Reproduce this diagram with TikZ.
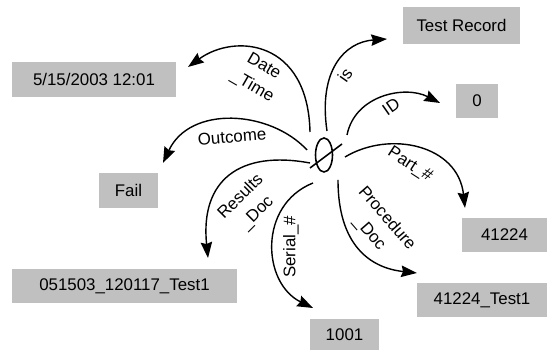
\documentclass[tikz,border=0pt]{standalone}
\usepackage{fontspec}
\setmainfont{Liberation Sans}
\usetikzlibrary{arrows.meta,shapes.geometric}
\definecolor{boxgray}{RGB}{192,192,192}
\begin{document}
\begin{tikzpicture}[x=0.02cm,y=-0.02cm,
  valbox/.style={fill=boxgray, draw=none, inner sep=0pt, font=\fontsize{9.6}{11}\selectfont},
  rel/.style={draw=black, line width=0.8pt, -{Stealth[length=9pt,width=6.5pt,inset=1pt]}},
  lbl/.style={font=\fontsize{9.6}{13}\selectfont, inner sep=0pt, align=center}]
\useasboundingbox (0,0) rectangle (547,350);

% value boxes
\node[valbox, minimum width=2.34cm, minimum height=0.74cm] (rec)  at (461.5,25.5) {Test Record};
\node[valbox, minimum width=3.28cm, minimum height=0.70cm] (date) at (94,79.5) {5/15/2003 12:01};
\node[valbox, minimum width=0.84cm, minimum height=0.68cm] (id)   at (477,101) {0};
\node[valbox, minimum width=1.18cm, minimum height=0.70cm] (fail) at (128.5,190.5) {Fail};
\node[valbox, minimum width=1.70cm, minimum height=0.68cm] (part) at (504.5,235) {41224};
\node[valbox, minimum width=4.50cm, minimum height=0.68cm] (res)  at (124.5,286) {051503\_120117\_Test1};
\node[valbox, minimum width=2.60cm, minimum height=0.68cm] (proc) at (482,300) {41224\_Test1};
\node[valbox, minimum width=1.38cm, minimum height=0.62cm] (ser)  at (344.5,334.5) {1001};

% hub
\node[draw, ellipse, line width=0.9pt, minimum width=0.34cm, minimum height=0.68cm, inner sep=0pt] (hub) at (324,155) {};
\coordinate (sa) at (310,168);
\coordinate (sb) at (342,144);
\draw[line width=0.9pt] (sa) -- (sb);

% start points
\coordinate (d0) at (310,132);
\coordinate (i0) at (327,131);
\coordinate (n0) at (347,135);
\coordinate (p0) at (345,157);
\coordinate (q0) at (338,180);
\coordinate (r0) at (313,183);
\coordinate (t0) at (310,163);
\coordinate (o0) at (307,150);
% tips
\coordinate (d1) at (188,67);
\coordinate (i1) at (387,39);
\coordinate (n1) at (440,103);
\coordinate (p1) at (465,208);
\coordinate (q1) at (417,273);
\coordinate (r1) at (313,308);
\coordinate (t1) at (208,258);
\coordinate (o1) at (163,163);

\draw[rel] (d0) .. controls (308,40) and (235,33) .. (d1);
\draw[rel] (i0) .. controls (318,70) and (345,42) .. (i1);
\draw[rel] (n0) .. controls (355,95) and (405,85) .. (n1);
\draw[rel] (p0) .. controls (390,130) and (458,145) .. (p1);
\draw[rel] (q0) .. controls (338,245) and (370,268) .. (q1);
\draw[rel] (r0) .. controls (258,205) and (262,283) .. (r1);
\draw[rel] (t0) .. controls (240,150) and (200,180) .. (t1);
\draw[rel] (o0) .. controls (270,110) and (190,105) .. (o1);

% labels
\node[lbl, rotate=-30] (ldate) at (258,77) {Date\\\_Time};
\node[lbl, rotate=55] (lis) at (345,75) {is};
\node[lbl, rotate=35] (lid) at (391,107) {ID};
\node[lbl, rotate=-33] (lpart) at (410,165) {Part\_\#};
\node[lbl, rotate=5] (lout) at (232,137) {Outcome};
\node[lbl, rotate=45] (lres) at (249,205) {Results\\\_Doc};
\node[lbl, rotate=90] (lser) at (291,247) {Serial\_\#};
\node[lbl, rotate=-49] (lproc) at (378,226) {Procedure\\\_Doc};
\end{tikzpicture}
\end{document}
